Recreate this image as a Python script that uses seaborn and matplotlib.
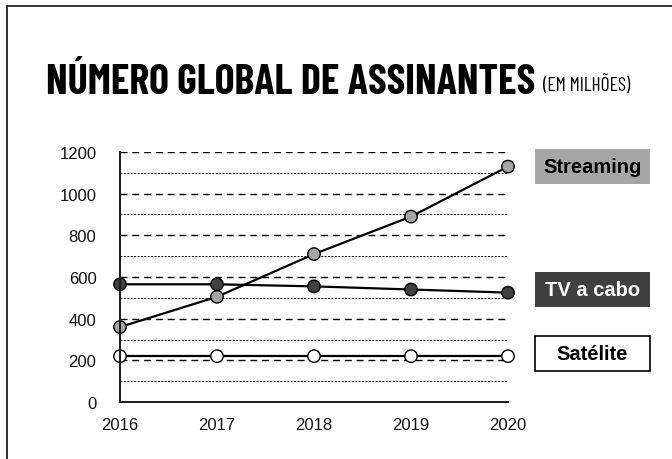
import matplotlib
matplotlib.use("Agg")
import matplotlib.pyplot as plt
from matplotlib.patches import Rectangle
from matplotlib import font_manager
import seaborn as sns
import pandas as pd

# ---- data ----
years = [2016, 2017, 2018, 2019, 2020]
streaming = [360, 505, 710, 890, 1130]
tv_cabo = [565, 565, 555, 540, 525]
satelite = [220, 220, 220, 220, 220]
series_names = ["Streaming", "TV a cabo", "Satélite"]
y_ticks = [0, 200, 400, 600, 800, 1000, 1200]
title_main = "NÚMERO GLOBAL DE ASSINANTES"
title_sub = "(EM MILHÕES)"

df = pd.DataFrame({
    "ano": years * 3,
    "valor": streaming + tv_cabo + satelite,
    "serie": [series_names[0]] * 5 + [series_names[1]] * 5 + [series_names[2]] * 5,
})

sns.set_theme(style="white")
avail = {f.name for f in font_manager.fontManager.ttflist}
prefs = ["Arial Narrow", "Liberation Sans Narrow", "Barlow Condensed",
         "Fira Sans Extra Condensed", "Roboto Condensed", "PT Sans Narrow"]
narrow = next((p for p in prefs if p in avail), "Liberation Sans")
plt.rcParams["font.family"] = ["Liberation Sans", "DejaVu Sans"]

W, H = 672, 460
fig = plt.figure(figsize=(W / 100, H / 100), dpi=100)
fig.patch.set_facecolor("white")

def fx(px):
    return px / W

def fy(py):
    return 1 - py / H

fig.patches.append(Rectangle((fx(7), fy(470)), fx(700) - fx(7), fy(7) - fy(470),
                             transform=fig.transFigure, fill=False,
                             edgecolor="#222222", lw=1.3))

ax = fig.add_axes([fx(120), fy(403), fx(508) - fx(120), fy(153) - fy(403)])

palette = {"Streaming": "#a6a6a6", "TV a cabo": "#404040", "Satélite": "#ffffff"}

sns.lineplot(data=df, x="ano", y="valor", units="serie", estimator=None,
             color="black", lw=1.6, ax=ax, legend=False, zorder=3)
sns.scatterplot(data=df, x="ano", y="valor", hue="serie", palette=palette,
                s=80, edgecolor="black", linewidth=1.0, ax=ax, legend=False,
                zorder=4, clip_on=False)

ax.set_xlim(2016, 2020)
ax.set_ylim(0, 1200)
ax.set_xticks(years)
ax.set_xticklabels([str(y) for y in years])
ax.set_yticks(y_ticks)
ax.set_yticks([100, 300, 500, 700, 900, 1100], minor=True)
ax.grid(False)
ax.grid(True, which="major", axis="y", color="black", lw=1.0, linestyle=(0, (5, 3.5)))
ax.grid(True, which="minor", axis="y", color="black", lw=0.7, linestyle=(0, (2, 1.5)))
ax.set_axisbelow(True)
ax.set_xlabel("")
ax.set_ylabel("")
for s in ["top", "right"]:
    ax.spines[s].set_visible(False)
for s in ["left", "bottom"]:
    ax.spines[s].set_color("#1a1a1a")
    ax.spines[s].set_linewidth(1.4)
    ax.spines[s].set_zorder(5)
ax.tick_params(axis="both", which="both", length=0, labelsize=12, colors="#111111")
ax.tick_params(axis="y", pad=17)
ax.tick_params(axis="x", pad=11)

# title, main part fitted to the reference width
renderer = fig.canvas.get_renderer()
t = fig.text(fx(46), fy(94), title_main, fontsize=33, fontweight="bold",
             family=[narrow, "DejaVu Sans"], color="black", ha="left", va="baseline")
w = t.get_window_extent(renderer).width
t.set_fontsize(33 * (535 - 46) / w)
fig.text(fx(543), fy(91), title_sub, fontsize=14,
         family=[narrow, "DejaVu Sans"], color="black", ha="left", va="baseline")

boxes = [
    (series_names[0], 150, "#a6a6a6", "black", None),
    (series_names[1], 273, "#404040", "white", None),
    (series_names[2], 337, "white", "black", "black"),
]
bx0, bx1, bh = 535, 650, 35
for name, top, fc, tc, ec in boxes:
    fig.patches.append(Rectangle((fx(bx0), fy(top + bh)), fx(bx1) - fx(bx0), fy(top) - fy(top + bh),
                                 transform=fig.transFigure, facecolor=fc,
                                 edgecolor=ec if ec else fc, lw=1.2 if ec else 0))
    fig.text(fx((bx0 + bx1) / 2), fy(top + bh / 2), name, fontsize=14.5, fontweight="bold",
             color=tc, ha="center", va="center")

fig.savefig("out.png", dpi=100, facecolor="white")
